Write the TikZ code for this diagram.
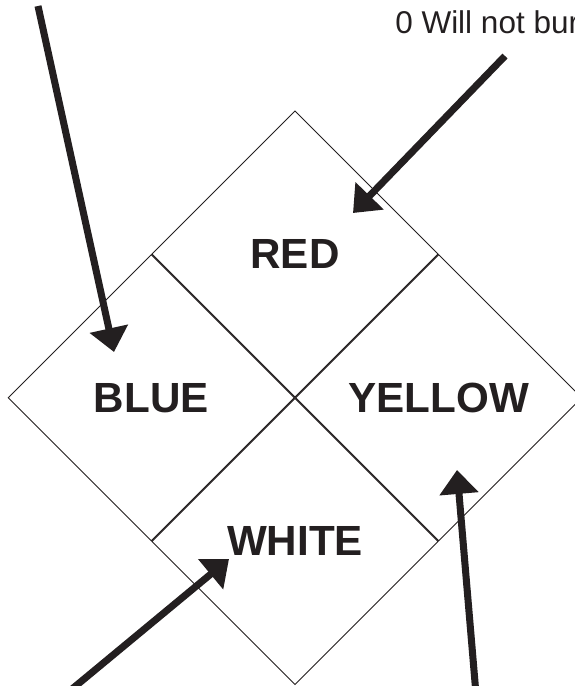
\documentclass[tikz,border=0pt]{standalone}
\usepackage{fontspec}
\setmainfont{Liberation Sans}
\usepackage{xcolor}
\usetikzlibrary{arrows.meta,shapes.geometric,positioning}
\definecolor{ink}{HTML}{231F20}

\begin{document}
\begin{tikzpicture}[
  x=0.025cm, y=-0.025cm,
  field/.style={diamond, aspect=1, draw=ink, line width=0.7pt, inner sep=0pt,
                minimum size=7.16cm, text=ink, font=\fontsize{30}{36}\selectfont\bfseries},
  pointer/.style={-{Triangle[length=17pt, width=27pt]}, line width=5pt, draw=ink},
  note/.style={font=\fontsize{22.4}{27}\selectfont, text=ink, inner sep=0pt}
]
\useasboundingbox (0,0) rectangle (574,686);

\node[field] (red) at (295,254) {RED};
\node[field, below left=0pt of red]   (blue)   {BLUE};
\node[field, below right=0pt of red]  (yellow) {YELLOW};
\node[field, below right=0pt of blue] (white)  {WHITE};

\node[note, anchor=base west] (rating) at (395,33) {0 Will not bur};

% free ends of the pointers
\coordinate (blueTail)   at (38,6);
\coordinate (blueTip)    at (114,352);
\coordinate (redTail)    at (505,56);
\coordinate (redTip)     at (353,213);
\coordinate (whiteTail)  at (66,694);
\coordinate (whiteTip)   at (229,559);
\coordinate (yellowTail) at (476,694);
\coordinate (yellowTip)  at (457,470);

\draw[pointer] (blueTail) -- (blueTip);
\draw[pointer] (redTail) -- (redTip);
\draw[pointer] (whiteTail) -- (whiteTip);
\draw[pointer] (yellowTail) -- (yellowTip);

\end{tikzpicture}
\end{document}
